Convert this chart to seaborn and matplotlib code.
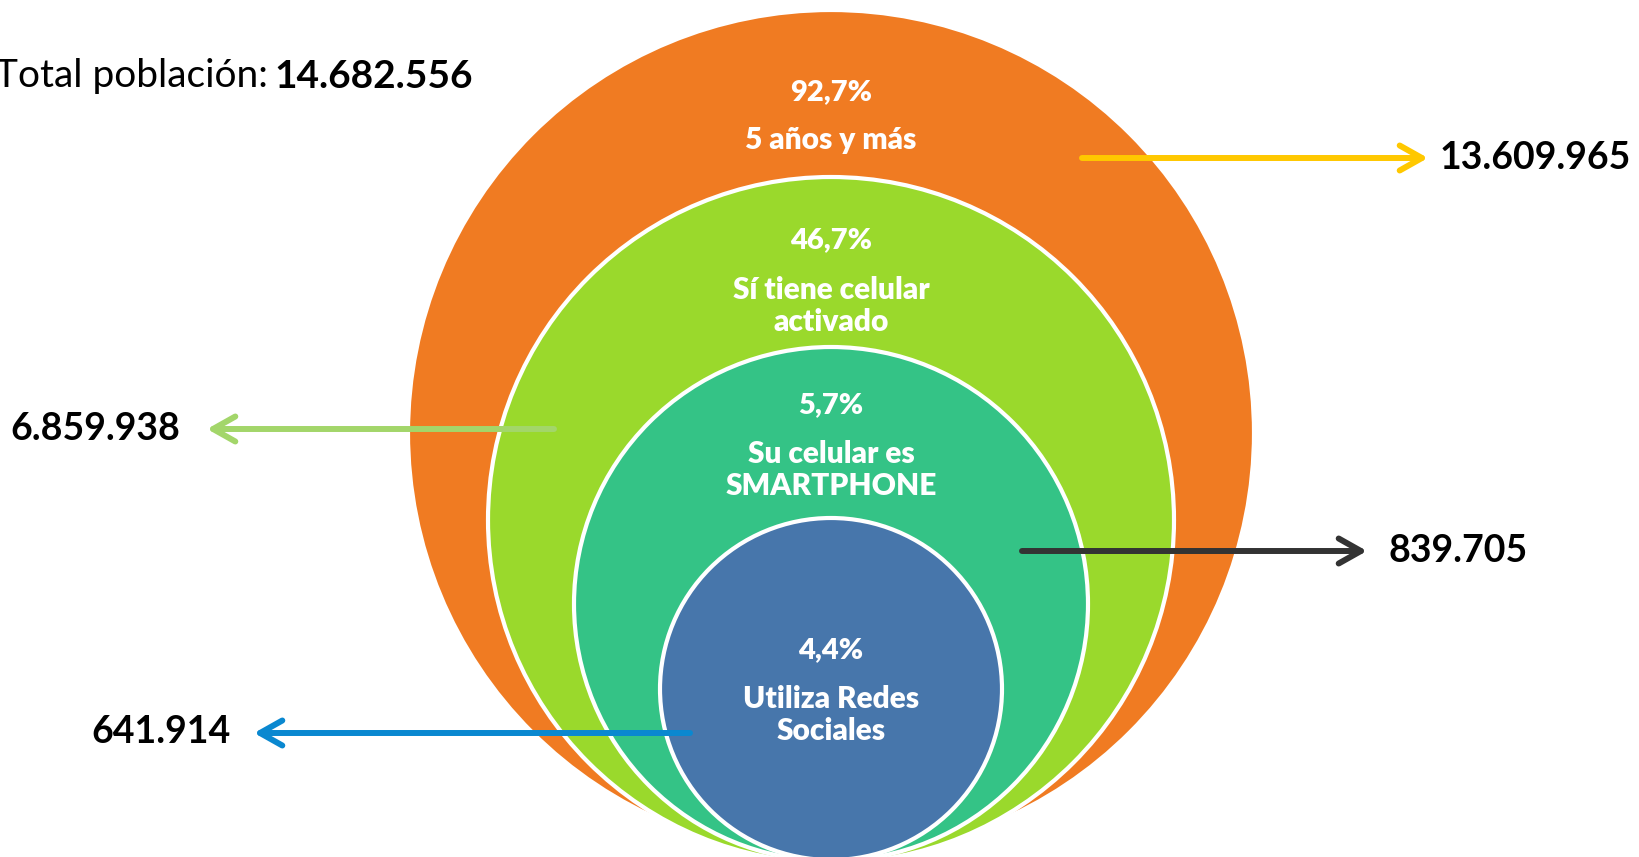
import matplotlib
matplotlib.use("Agg")
import matplotlib.pyplot as plt
import seaborn as sns
from matplotlib.patches import Circle

# data
groups = ["5 años y más", "Sí tiene celular\nactivado",
          "Su celular es\nSMARTPHONE", "Utiliza Redes\nSociales"]
shares = [92.7, 46.7, 5.7, 4.4]
people = [13609965, 6859938, 839705, 641914]
total_people = 14682556

# layout (pixel space of the 1639x857 canvas)
circle_colors = ["#F07B22", "#9AD92C", "#34C386", "#4776AB"]
centers_y = [433, 520, 604, 689]
radii = [423, 343, 257, 171]
center_x = 831
share_y = [92, 240, 405, 650]
group_y = [140, 306, 470, 715]
arrow_colors = ["#FFC800", "#A3D66A", "#333333", "#0A88D0"]
arrow_from = [(1082, 158), (554, 429), (1022, 551), (690, 733)]
arrow_to = [(1428, 158), (207, 429), (1367, 551), (254, 733)]
number_xy = [(1440, 158), (10, 429), (1388, 551), (91, 732)]


def es_number(n):
    return f"{n:,}".replace(",", ".")


def es_pct(p):
    return f"{p:.1f}%".replace(".", ",")


sns.set_theme(style="white")
plt.rcParams["font.family"] = ["Lato", "DejaVu Sans"]

fig = plt.figure(figsize=(16.39, 8.57), dpi=100)
ax = fig.add_axes([0, 0, 1, 1])
ax.set_xlim(0, 1639)
ax.set_ylim(857, 0)
ax.set_aspect("equal")
ax.axis("off")

for i, (cy, r, col) in enumerate(zip(centers_y, radii, circle_colors)):
    ax.add_patch(Circle((center_x, cy), r, facecolor=col,
                        edgecolor="white", linewidth=3, zorder=1 + i))

for i in range(len(groups)):
    ax.text(center_x, share_y[i], es_pct(shares[i]), color="white",
            fontsize=21, fontweight="heavy", ha="center", va="center", zorder=10)
    ax.text(center_x, group_y[i], groups[i], color="white", fontsize=21.5,
            fontweight="heavy", ha="center", va="center", linespacing=1.2,
            zorder=10)

for i in range(len(people)):
    ax.annotate("", xy=arrow_to[i], xytext=arrow_from[i],
                arrowprops=dict(arrowstyle="->,head_length=0.8,head_width=0.45",
                                color=arrow_colors[i], lw=4.3,
                                mutation_scale=20, shrinkA=0, shrinkB=0,
                                capstyle="round", joinstyle="round"),
                zorder=20)
    x, y = number_xy[i]
    ax.text(x, y, es_number(people[i]), fontsize=27, fontweight="bold",
            color="black", ha="left", va="center", zorder=20)

ax.text(268, 76, "Total población:", fontsize=28, color="black",
        ha="right", va="center")
ax.text(274, 76, es_number(total_people), fontsize=28, fontweight="bold",
        color="black", ha="left", va="center")

fig.savefig("out.png", dpi=100, facecolor="white")
